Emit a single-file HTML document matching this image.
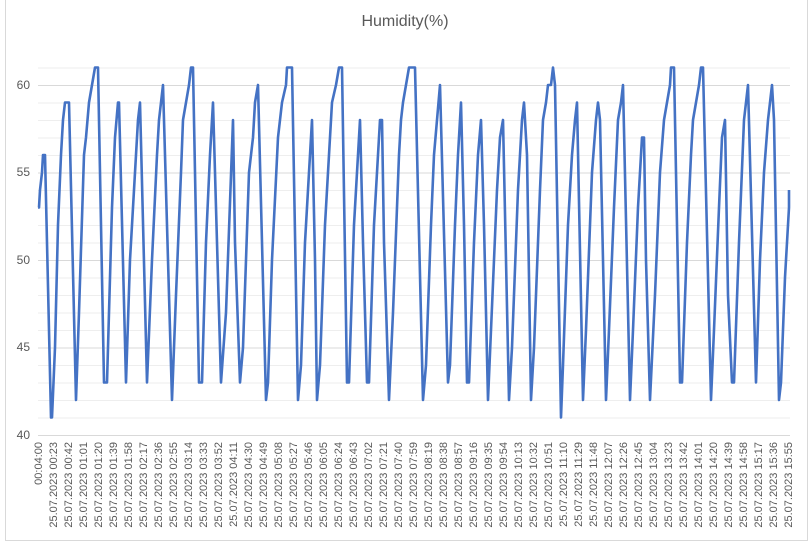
<!DOCTYPE html>
<html><head><meta charset="utf-8"><style>
html,body{margin:0;padding:0;background:#fff;}
svg{display:block;font-family:"Liberation Sans",sans-serif;}
</style></head><body>
<svg width="811" height="544" viewBox="0 0 811 544" xmlns="http://www.w3.org/2000/svg">
<rect width="811" height="544" fill="#fff"/>
<g stroke="#d9d9d9" stroke-width="1">
<line x1="5.5" y1="0" x2="5.5" y2="541"/>
<line x1="5" y1="540.5" x2="808" y2="540.5"/>
<line x1="807.5" y1="0" x2="807.5" y2="541"/>
</g>
<g stroke-width="1">
<line x1="38" x2="790" y1="435.5" y2="435.5" stroke="#d9d9d9"/>
<line x1="38" x2="790" y1="418" y2="418" stroke="#eee"/>
<line x1="38" x2="790" y1="400.5" y2="400.5" stroke="#eee"/>
<line x1="38" x2="790" y1="383" y2="383" stroke="#eee"/>
<line x1="38" x2="790" y1="365.5" y2="365.5" stroke="#eee"/>
<line x1="38" x2="790" y1="348" y2="348" stroke="#d9d9d9"/>
<line x1="38" x2="790" y1="330.5" y2="330.5" stroke="#eee"/>
<line x1="38" x2="790" y1="313" y2="313" stroke="#eee"/>
<line x1="38" x2="790" y1="295.5" y2="295.5" stroke="#eee"/>
<line x1="38" x2="790" y1="278" y2="278" stroke="#eee"/>
<line x1="38" x2="790" y1="260.5" y2="260.5" stroke="#d9d9d9"/>
<line x1="38" x2="790" y1="243" y2="243" stroke="#eee"/>
<line x1="38" x2="790" y1="225.5" y2="225.5" stroke="#eee"/>
<line x1="38" x2="790" y1="208" y2="208" stroke="#eee"/>
<line x1="38" x2="790" y1="190.5" y2="190.5" stroke="#eee"/>
<line x1="38" x2="790" y1="173" y2="173" stroke="#d9d9d9"/>
<line x1="38" x2="790" y1="155.5" y2="155.5" stroke="#eee"/>
<line x1="38" x2="790" y1="138" y2="138" stroke="#eee"/>
<line x1="38" x2="790" y1="120.5" y2="120.5" stroke="#eee"/>
<line x1="38" x2="790" y1="103" y2="103" stroke="#eee"/>
<line x1="38" x2="790" y1="85.5" y2="85.5" stroke="#d9d9d9"/>
<line x1="38" x2="790" y1="68" y2="68" stroke="#eee"/>
</g>
<text x="405" y="26" font-size="16" fill="#595959" text-anchor="middle">Humidity(%)</text>
<g font-size="12" fill="#595959" text-anchor="end">
<text x="30" y="89">60</text><text x="30" y="176">55</text><text x="30" y="264">50</text><text x="30" y="351">45</text><text x="30" y="439">40</text>
</g>
<g font-size="11" fill="#595959" text-anchor="end">
<text transform="translate(42,442) rotate(-90)">00:04:00</text>
<text transform="translate(57,442) rotate(-90)">25.07.2023 00:23</text>
<text transform="translate(72,442) rotate(-90)">25.07.2023 00:42</text>
<text transform="translate(87,442) rotate(-90)">25.07.2023 01:01</text>
<text transform="translate(102,442) rotate(-90)">25.07.2023 01:20</text>
<text transform="translate(117,442) rotate(-90)">25.07.2023 01:39</text>
<text transform="translate(132,442) rotate(-90)">25.07.2023 01:58</text>
<text transform="translate(147,442) rotate(-90)">25.07.2023 02:17</text>
<text transform="translate(162,442) rotate(-90)">25.07.2023 02:36</text>
<text transform="translate(177,442) rotate(-90)">25.07.2023 02:55</text>
<text transform="translate(192,442) rotate(-90)">25.07.2023 03:14</text>
<text transform="translate(207,442) rotate(-90)">25.07.2023 03:33</text>
<text transform="translate(222,442) rotate(-90)">25.07.2023 03:52</text>
<text transform="translate(237,442) rotate(-90)">25.07.2023 04:11</text>
<text transform="translate(252,442) rotate(-90)">25.07.2023 04:30</text>
<text transform="translate(267,442) rotate(-90)">25.07.2023 04:49</text>
<text transform="translate(282,442) rotate(-90)">25.07.2023 05:08</text>
<text transform="translate(297,442) rotate(-90)">25.07.2023 05:27</text>
<text transform="translate(312,442) rotate(-90)">25.07.2023 05:46</text>
<text transform="translate(327,442) rotate(-90)">25.07.2023 06:05</text>
<text transform="translate(342,442) rotate(-90)">25.07.2023 06:24</text>
<text transform="translate(357,442) rotate(-90)">25.07.2023 06:43</text>
<text transform="translate(372,442) rotate(-90)">25.07.2023 07:02</text>
<text transform="translate(387,442) rotate(-90)">25.07.2023 07:21</text>
<text transform="translate(402,442) rotate(-90)">25.07.2023 07:40</text>
<text transform="translate(417,442) rotate(-90)">25.07.2023 07:59</text>
<text transform="translate(432,442) rotate(-90)">25.07.2023 08:19</text>
<text transform="translate(447,442) rotate(-90)">25.07.2023 08:38</text>
<text transform="translate(462,442) rotate(-90)">25.07.2023 08:57</text>
<text transform="translate(477,442) rotate(-90)">25.07.2023 09:16</text>
<text transform="translate(492,442) rotate(-90)">25.07.2023 09:35</text>
<text transform="translate(507,442) rotate(-90)">25.07.2023 09:54</text>
<text transform="translate(522,442) rotate(-90)">25.07.2023 10:13</text>
<text transform="translate(537,442) rotate(-90)">25.07.2023 10:32</text>
<text transform="translate(552,442) rotate(-90)">25.07.2023 10:51</text>
<text transform="translate(567,442) rotate(-90)">25.07.2023 11:10</text>
<text transform="translate(582,442) rotate(-90)">25.07.2023 11:29</text>
<text transform="translate(597,442) rotate(-90)">25.07.2023 11:48</text>
<text transform="translate(612,442) rotate(-90)">25.07.2023 12:07</text>
<text transform="translate(627,442) rotate(-90)">25.07.2023 12:26</text>
<text transform="translate(642,442) rotate(-90)">25.07.2023 12:45</text>
<text transform="translate(657,442) rotate(-90)">25.07.2023 13:04</text>
<text transform="translate(672,442) rotate(-90)">25.07.2023 13:23</text>
<text transform="translate(687,442) rotate(-90)">25.07.2023 13:42</text>
<text transform="translate(702,442) rotate(-90)">25.07.2023 14:01</text>
<text transform="translate(717,442) rotate(-90)">25.07.2023 14:20</text>
<text transform="translate(732,442) rotate(-90)">25.07.2023 14:39</text>
<text transform="translate(747,442) rotate(-90)">25.07.2023 14:58</text>
<text transform="translate(762,442) rotate(-90)">25.07.2023 15:17</text>
<text transform="translate(777,442) rotate(-90)">25.07.2023 15:36</text>
<text transform="translate(792,442) rotate(-90)">25.07.2023 15:55</text>
</g>
<polyline id="ln" fill="none" stroke="#4472c4" stroke-width="2.6" stroke-linejoin="round"/>
<script>
var d=[[38,53],[39,53],[40,54],[42,55],[43,56],[45,56],[51,41],[52,41],[55,45],[58,52],[61,56],[63,58],[65,59],[69,59],[76,42],[79,47],[84,56],[86,57],[89,59],[92,60],[95,61],[98,61],[104,43],[107,43],[112,53],[115,57],[118,59],[119,59],[126,43],[130,50],[136,56],[138,58],[140,59],[147,43],[152,50],[157,56],[159,58],[161,59],[163,60],[172,42],[176,48],[181,55],[183,58],[186,59],[189,60],[191,61],[193,61],[199,43],[202,43],[206,51],[210,56],[213,59],[221,43],[226,47],[233,58],[235,51],[240,43],[243,45],[249,55],[253,57],[255,59],[258,60],[266,42],[268,43],[272,50],[278,57],[282,59],[286,60],[287,61],[292,61],[298,42],[301,44],[305,51],[309,55],[312,58],[315,50],[317,42],[320,44],[325,52],[329,56],[332,59],[336,60],[339,61],[342,61],[347,43],[349,43],[354,52],[358,56],[360,58],[363,51],[367,43],[369,43],[374,52],[378,56],[380,58],[382,58],[384,51],[389,42],[393,47],[399,56],[401,58],[403,59],[406,60],[409,61],[415,61],[423,42],[426,44],[431,52],[434,56],[437,58],[440,60],[448,43],[450,44],[455,52],[458,56],[461,59],[464,52],[467,43],[469,43],[474,51],[478,56],[481,58],[484,52],[488,42],[491,46],[497,54],[500,57],[503,58],[509,42],[512,45],[518,54],[521,57],[522,58],[524,59],[527,56],[531,42],[534,45],[540,54],[543,58],[546,59],[548,60],[551,60],[553,61],[555,60],[561,41],[563,44],[568,52],[572,56],[575,58],[577,59],[583,42],[586,46],[592,55],[596,58],[598,59],[600,58],[606,42],[609,46],[614,53],[618,58],[621,59],[623,60],[630,42],[633,46],[638,53],[642,57],[644,57],[646,50],[650,42],[655,48],[660,55],[664,58],[667,59],[670,60],[671,61],[674,61],[680,43],[682,43],[687,51],[691,56],[693,58],[696,59],[699,60],[701,61],[703,61],[711,42],[714,46],[719,53],[722,57],[725,58],[728,48],[732,43],[734,43],[739,51],[744,58],[746,59],[748,60],[756,43],[760,50],[764,55],[768,58],[770,59],[772,60],[774,58],[779,42],[781,43],[785,49],[789,53],[789,54]];
var p=d.map(function(a){return a[0]+','+(435-(a[1]-40)*17.5)}).join(' ');
document.getElementById('ln').setAttribute('points',p);
</script>
</svg>
</body></html>
